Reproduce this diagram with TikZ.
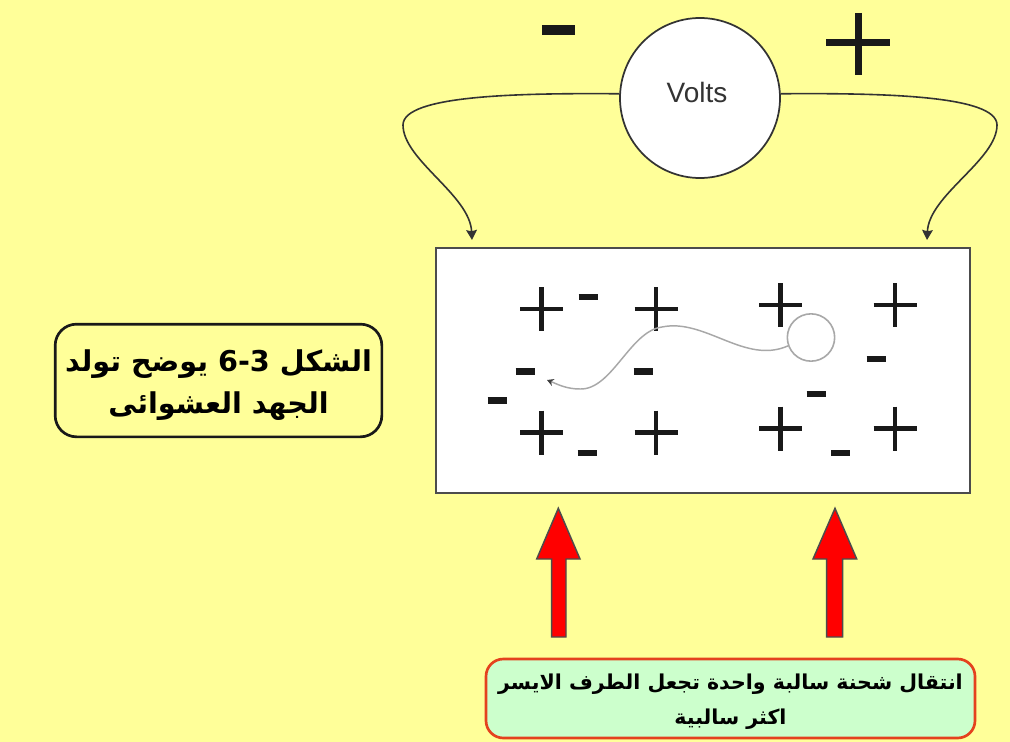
\documentclass[tikz,border=0pt]{standalone}
\usepackage{fontspec}
\setmainfont{Liberation Sans}
\newfontfamily\arabicfont[Script=Arabic]{DejaVu Sans}
\TeXXeTstate=1
\newcommand{\arw}[1]{\beginR #1\endR}
\usetikzlibrary{arrows.meta}
\definecolor{bgyellow}{HTML}{FFFF99}
\definecolor{notegreen}{HTML}{CCFFCC}
\definecolor{notered}{HTML}{E4421E}
\definecolor{wiregray}{HTML}{333333}
\definecolor{pathgray}{HTML}{A8A8A8}
\tikzset{
  wire/.style={draw=wiregray, line width=1.2pt, -{Stealth[length=7.5pt,width=8pt,inset=1pt]}},
  chargeplus/.pic={\draw[line width=3.4pt, black!90] (-21.5,0)--(21.5,0) (0,-22)--(0,22);},
  chargeminus/.pic={\draw[line width=5pt, black!90] (-9.5,0)--(9.5,0);},
  redarrow/.style={fill=red, draw=black!70, line width=1.1pt, line join=miter},
  labelbox/.style={draw=black!90, line width=2pt, fill=bgyellow, rounded corners=16pt,
     minimum width=245pt, minimum height=84.5pt, inner sep=0pt},
  notebox/.style={draw=notered, line width=2pt, fill=notegreen, rounded corners=13pt,
     minimum width=366.75pt, minimum height=59.25pt, inner sep=0pt},
  artext/.style={align=center, inner sep=0pt}
}
\begin{document}
\begin{tikzpicture}[x=0.75pt,y=-0.75pt]
\fill[bgyellow] (0,0) rectangle (1010,742);
\useasboundingbox (0,0) rectangle (1010,742);

% voltmeter
\node[circle, draw=wiregray, line width=1.3pt, fill=white, minimum size=120pt, inner sep=0pt] (volts) at (700,98) {};
\node[text=black!80, font=\fontsize{21}{24}\selectfont, inner sep=0pt] (voltstext) at (697,92) {Volts};
% terminal signs
\draw[line width=7.5pt, black!90] (542,30) -- (575,30);
\draw[line width=5.25pt, black!90] (826,43) -- (890,43) (858,13) -- (858,75);

% main box
\node[draw=black!70, line width=1.6pt, fill=white, minimum width=400.5pt, minimum height=183.75pt,
      inner sep=0pt] (box) at (703,370.5) {};

% wire ends
\coordinate (lend) at (472,240);
\coordinate (rend) at (927,240);
\draw[wire] (volts.177) .. controls (520,93) and (403,95) .. (403,125)
            .. controls (403,160) and (470,195) .. (lend);
\draw[wire] (volts.3) .. controls (880,93) and (997,95) .. (997,125)
            .. controls (997,160) and (929,195) .. (rend);

% charges
\foreach \x/\y in {541.5/309, 656/309, 780.5/305, 895/305, 541.5/432.5, 656/432.5, 780.5/428.5, 895/428.5}
  \pic at (\x,\y) {chargeplus};
\foreach \x/\y in {588/297, 876/359, 525/371.5, 643/371.5, 497/400.5, 816/394, 587/453, 840.5/453}
  \pic at (\x,\y) {chargeminus};

% electron and its path
\node[circle, draw=pathgray, line width=1.2pt, minimum size=35.5pt, inner sep=0pt] (electron) at (811,337.5) {};
\coordinate (eend) at (547,380);
\draw[draw=pathgray, line width=1.1pt, -{Stealth[length=5pt,width=5.5pt,black!75]}]
  (electron.200) .. controls (745,365) and (705,318) .. (662,327)
  .. controls (630,331) and (612,390) .. (580,389)
  .. controls (566,389) and (557,384) .. (eend);

% red arrows
\draw[redarrow] (558.3,508.3) -- (580,559) -- (566,559) -- (566,637) -- (551.7,637) -- (551.7,559) -- (536.7,559) -- cycle;
\draw[redarrow] (835,508.3) -- (856.7,559) -- (842.7,559) -- (842.7,637) -- (826.7,637) -- (826.7,559) -- (813,559) -- cycle;

% labels
\node[labelbox] (fig) at (218.5,380.5) {};
\node[artext, font=\arabicfont\bfseries\fontsize{21.5}{32}\selectfont] (figtext) at (218.5,385)
  {\arw{تولد} \arw{يوضح} 6-3 \arw{الشكل}\\\arw{العشوائى} \arw{الجهد}};
\node[notebox] (note) at (730.5,698.5) {};
\node[artext, font=\arabicfont\bfseries\fontsize{15.4}{26}\selectfont] (notetext) at (730.5,701.5)
  {\arw{الايسر} \arw{الطرف} \arw{تجعل} \arw{واحدة} \arw{سالبة} \arw{شحنة} \arw{انتقال}\\\arw{سالبية} \arw{اكثر}};
\end{tikzpicture}
\end{document}
